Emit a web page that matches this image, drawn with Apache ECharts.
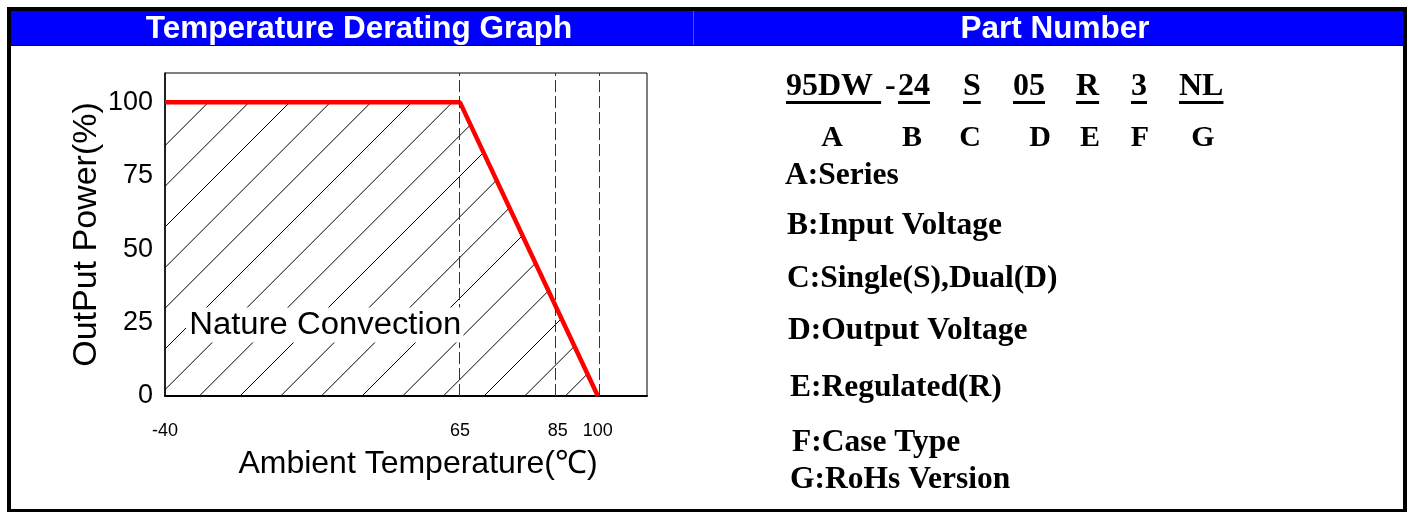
<!DOCTYPE html>
<html>
<head>
<meta charset="utf-8">
<script src="https://cdn.jsdelivr.net/npm/echarts@6/dist/echarts.min.js"></script>
<style>
  html, body { margin: 0; padding: 0; background: #fff; }
  #chart { position: absolute; left: 0; top: 0; width: 1408px; height: 512px; }
</style>
</head>
<body>
<div id="chart"></div>
<script>
// ---------------- data ----------------
const temperature = [-40, 65, 100];          // derating curve, x (°C)
const outputPower = [100, 100, 0];           // derating curve, y (%)
const xTickValues = [-40, 65, 85, 100];
const yTickValues = [0, 25, 50, 75, 100];
const guideTemps = [65, 85, 100];            // dashed guide lines
const areaLabel = 'Nature Convection';
const partCode = ['95DW ', '-', '24', 'S', '05', 'R', '3', 'NL'];
const partCodeUnderlined = [true, false, true, true, true, true, true, true];
const partKeys = ['A', 'B', 'C', 'D', 'E', 'F', 'G'];
const partDescriptions = ['A:Series', 'B:Input Voltage', 'C:Single(S),Dual(D)',
  'D:Output Voltage', 'E:Regulated(R)', 'F:Case Type', 'G:RoHs Version'];
const titles = ['Temperature Derating Graph', 'Part Number'];

// ------------- non-uniform temperature scale of the original graph -------------
const X_SCALE = { temps: [-40, 65, 85, 100, 118], frac: [0, 0.612, 0.815, 0.898, 1] };
function warpX(t) {
  const T = X_SCALE.temps, F = X_SCALE.frac;
  for (let i = 0; i < T.length - 1; i++) {
    if (t <= T[i + 1] || i === T.length - 2) {
      return F[i] + (t - T[i]) / (T[i + 1] - T[i]) * (F[i + 1] - F[i]);
    }
  }
}

// ------------- layout / style -------------
const SANS = '"Liberation Sans", Arial, sans-serif';
const SERIF = '"Liberation Serif", "Times New Roman", serif';
const GRID = { left: 165, top: 73, width: 482, height: 323 };
const codeLeft = [786, 885, 898, 963, 1013, 1076, 1131, 1179];
const keyCenter = [832, 912, 970, 1040, 1090, 1140, 1203];
const descLeft = [785, 787, 787, 788, 790, 792, 790];
const descY = [176, 226, 279, 331, 388, 443, 480];

// hatch pattern tile
const tile = document.createElement('canvas');
tile.width = tile.height = 122;
(function () {
  const c = tile.getContext('2d');
  c.strokeStyle = '#000';
  c.lineWidth = 1;
  const step = 122 / 3, d = 26;
  for (let k = -2; k <= 7; k++) {
    const cc = d + k * step;
    c.beginPath();
    c.moveTo(cc + 4, -4);
    c.lineTo(cc - 126, 126);
    c.stroke();
  }
})();

const measureCtx = document.createElement('canvas').getContext('2d');
function textWidth(txt, font) { measureCtx.font = font; return measureCtx.measureText(txt).width; }

const graphic = [];
// header bars
graphic.push({ type: 'rect', shape: { x: 11, y: 11, width: 682, height: 34 }, style: { fill: '#0000ff' }, z: 0 });
graphic.push({ type: 'rect', shape: { x: 693, y: 11, width: 710, height: 34 }, style: { fill: '#0000ff' }, z: 0 });
graphic.push({ type: 'rect', shape: { x: 693, y: 11, width: 1, height: 34 }, style: { fill: '#4a4aff' }, z: 1 });
graphic.push({ type: 'rect', shape: { x: 11, y: 45, width: 1392, height: 1 }, style: { fill: '#000033' }, z: 1 });
// outer frame
graphic.push({ type: 'rect', shape: { x: 7, y: 7, width: 1400, height: 4 }, style: { fill: '#000' }, z: 1 });
graphic.push({ type: 'rect', shape: { x: 7, y: 7, width: 4, height: 505 }, style: { fill: '#000' }, z: 1 });
graphic.push({ type: 'rect', shape: { x: 1403, y: 7, width: 4, height: 505 }, style: { fill: '#000' }, z: 1 });
graphic.push({ type: 'rect', shape: { x: 7, y: 509, width: 1400, height: 3 }, style: { fill: '#000' }, z: 1 });
// titles
graphic.push({ type: 'text', x: 359, y: 29, z: 5, style: { text: titles[0], fill: '#fff', font: 'bold 31.5px ' + SANS, textAlign: 'center', textVerticalAlign: 'middle' } });
graphic.push({ type: 'text', x: 1055, y: 29, z: 5, style: { text: titles[1], fill: '#fff', font: 'bold 31.5px ' + SANS, textAlign: 'center', textVerticalAlign: 'middle' } });
// area label with white background
graphic.push({ type: 'text', x: 186, y: 325, z: 100, scaleX: 1.06,
  style: { text: areaLabel, fill: '#000', font: '31px ' + SANS, textAlign: 'left', textVerticalAlign: 'middle',
           backgroundColor: '#fff', padding: [2, 2, 2, 3] } });
// part number code row
const codeFont = 'bold 32px ' + SERIF;
partCode.forEach((s, i) => {
  graphic.push({ type: 'text', x: codeLeft[i], y: 87, z: 5, style: { text: s, fill: '#000', font: codeFont, textAlign: 'left', textVerticalAlign: 'middle' } });
  if (partCodeUnderlined[i]) {
    graphic.push({ type: 'rect', z: 5, shape: { x: codeLeft[i], y: 101, width: textWidth(s, codeFont), height: 3 }, style: { fill: '#000' } });
  }
});
partKeys.forEach((s, i) => {
  graphic.push({ type: 'text', x: keyCenter[i], y: 138, z: 5, style: { text: s, fill: '#000', font: 'bold 30px ' + SERIF, textAlign: 'center', textVerticalAlign: 'middle' } });
});
partDescriptions.forEach((s, i) => {
  graphic.push({ type: 'text', x: descLeft[i], y: descY[i], z: 5, style: { text: s, fill: '#000', font: 'bold 31.5px ' + SERIF, textAlign: 'left', textVerticalAlign: 'middle' } });
});

const chart = echarts.init(document.getElementById('chart'), null, { renderer: 'canvas' });
chart.setOption({
  animation: false,
  backgroundColor: '#fff',
  grid: Object.assign({ show: true, borderColor: '#000', borderWidth: 1, containLabel: false }, GRID),
  xAxis: {
    type: 'value', min: 0, max: 1,
    name: 'Ambient Temperature(℃)', nameLocation: 'middle', nameGap: 52,
    nameTextStyle: { fontSize: 32, color: '#000', fontFamily: SANS, padding: [0, 0, 0, 24] },
    axisLine: { show: true, onZero: false, lineStyle: { color: '#000', width: 2 } },
    axisTick: { show: false },
    splitLine: { show: false },
    axisLabel: {
      customValues: xTickValues.map(warpX),
      formatter: function (v) {
        const i = xTickValues.findIndex(t => Math.abs(warpX(t) - v) < 1e-6);
        return i >= 0 ? String(xTickValues[i]) : '';
      },
      fontSize: 18, color: '#000', fontFamily: SANS, margin: 26
    }
  },
  yAxis: {
    type: 'value', min: 0, max: 110, interval: 25,
    name: 'OutPut Power(%)', nameLocation: 'middle', nameGap: 60,
    nameTextStyle: { fontSize: 34, color: '#000', fontFamily: SANS },
    axisLine: { show: true, lineStyle: { color: '#000', width: 1.5 } },
    axisTick: { show: false },
    splitLine: { show: false },
    axisLabel: { customValues: yTickValues, fontSize: 27, color: '#000', fontFamily: SANS, margin: 12 }
  },
  series: [{
    type: 'line',
    data: temperature.map((t, i) => [warpX(t), outputPower[i]]),
    showSymbol: false,
    lineStyle: { color: '#ff0000', width: 4.5 },
    areaStyle: { color: { image: tile, repeat: 'repeat' }, opacity: 1 },
    z: 3,
    markLine: {
      silent: true, symbol: 'none', label: { show: false },
      lineStyle: { color: '#333', width: 1, type: [12, 4] },
      data: guideTemps.map(t => ({ xAxis: warpX(t) }))
    }
  }],
  graphic: graphic
});
</script>
</body>
</html>
